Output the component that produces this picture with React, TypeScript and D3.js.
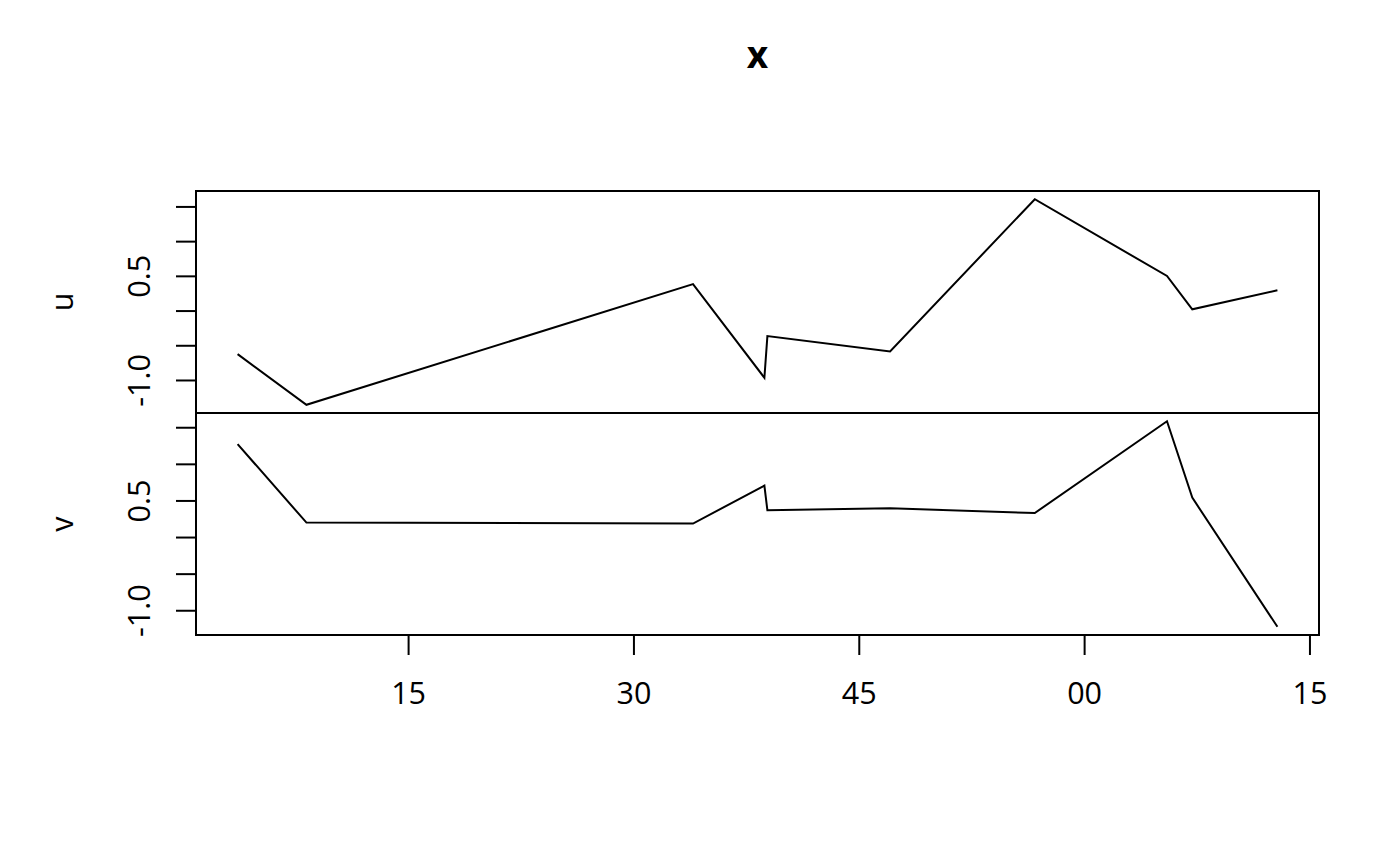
import * as d3 from 'd3';

// observation times (hh:mm:ss) and the two series
const times = [
  '00:03:37', '00:08:12', '00:33:56', '00:38:41', '00:38:53',
  '00:47:03', '00:56:41', '01:05:29', '01:07:10', '01:12:50',
];
const uValues = [-0.62, -1.35, 0.389, -0.961, -0.361, -0.581, 1.611, 0.505, 0.025, 0.299];
const vValues = [1.276, 0.204, 0.191, 0.709, 0.372, 0.399, 0.335, 1.589, 0.545, -1.219];

const seriesNames = ['u', 'v'];
const yTicks = [-1, -0.5, 0, 0.5, 1, 1.5];
const yTickLabels = [-1, 0.5];
const title = 'x';

const W = 1400;
const H = 866;
const left = 196;
const right = 1319;
const panelTops = [191, 413];
const panelH = 222;
const font = '"Open Sans", "Noto Sans", sans-serif';
const fs = 30.5;

const parse = d3.utcParse('%H:%M:%S');

function padded(lo: number, hi: number): [number, number] {
  const p = (hi - lo) * 0.04;
  return [lo - p, hi + p];
}

export default function App() {
  const dates = times.map((t) => parse(t) as Date);
  const [t0, t1] = d3.extent(dates) as [Date, Date];
  const [x0, x1] = padded(+t0, +t1);
  const x = d3.scaleUtc().domain([x0, x1]).range([left, right]);
  const xTicks = x.ticks(d3.utcMinute.every(15)!);
  const fmt = d3.utcFormat('%M');

  const series = [uValues, vValues];
  const bottom = panelTops[1] + panelH;

  return (
    <svg
      width={W}
      height={H}
      style={{ position: 'absolute', left: 0, top: 0, background: '#fff' }}
      fontFamily={font}
    >
      <text x={(left + right) / 2} y={68} textAnchor="middle" fontSize={37} fontWeight="bold">
        {title}
      </text>
      {series.map((vals, i) => {
        const top = panelTops[i];
        const [lo, hi] = d3.extent(vals) as [number, number];
        const y = d3.scaleLinear().domain(padded(lo, hi)).range([top + panelH, top]);
        const line = d3
          .line<number>()
          .x((_, j) => x(dates[j]))
          .y((d) => y(d));
        const mid = top + panelH / 2;
        return (
          <g key={seriesNames[i]}>
            <rect x={left} y={top} width={right - left} height={panelH} fill="none" stroke="#000" strokeWidth={2} />
            <path d={line(vals) ?? ''} fill="none" stroke="#000" strokeWidth={2} />
            {yTicks.map((t) => (
              <line key={t} x1={left} x2={left - 20} y1={y(t)} y2={y(t)} stroke="#000" strokeWidth={2} />
            ))}
            {yTickLabels.map((t) => (
              <text
                key={t}
                transform={`translate(150,${y(t)}) rotate(-90)`}
                textAnchor="middle"
                fontSize={fs}
              >
                {t.toFixed(1)}
              </text>
            ))}
            <text transform={`translate(73,${mid}) rotate(-90)`} textAnchor="middle" fontSize={fs}>
              {seriesNames[i]}
            </text>
          </g>
        );
      })}
      {xTicks.map((t) => (
        <g key={+t}>
          <line x1={x(t)} x2={x(t)} y1={bottom} y2={bottom + 20} stroke="#000" strokeWidth={2} />
          <text x={x(t)} y={704} textAnchor="middle" fontSize={fs}>
            {fmt(t)}
          </text>
        </g>
      ))}
    </svg>
  );
}
